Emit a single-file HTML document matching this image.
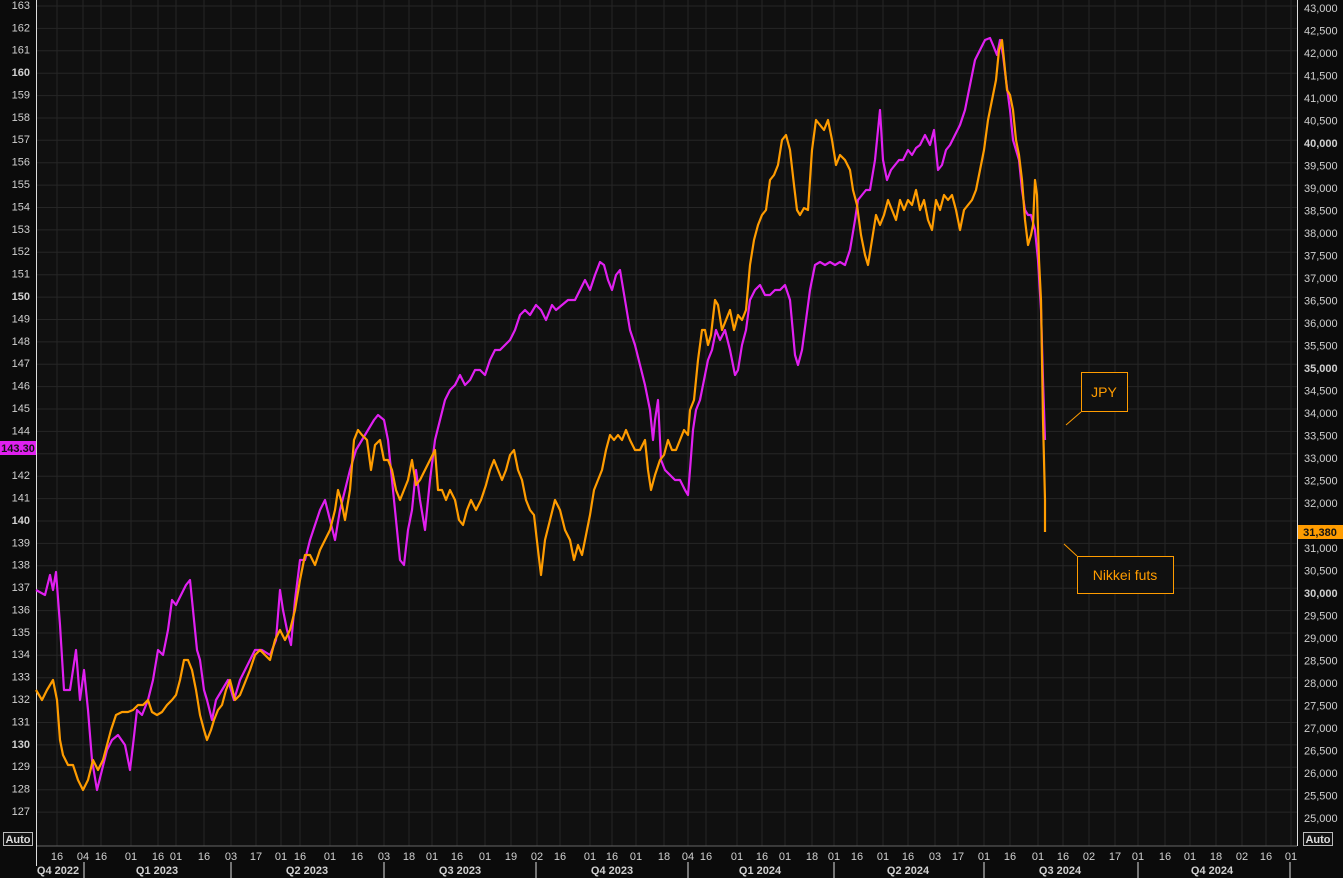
<!DOCTYPE html>
<html><head><meta charset="utf-8"><style>
html,body{margin:0;padding:0;background:#0b0b0b;}
svg{display:block;font-family:"Liberation Sans",sans-serif;}
.l text{font-size:11px;fill:#d0d0d0;text-anchor:end;dominant-baseline:middle}
.r text{font-size:11px;fill:#d0d0d0;dominant-baseline:middle}
.b text{font-size:11px;fill:#d0d0d0;text-anchor:middle}
.q text{font-size:11px;fill:#d0d0d0;font-weight:bold;text-anchor:middle}
.bd{font-weight:bold}
</style></head><body>
<svg width="1343" height="878" viewBox="0 0 1343 878">
<rect x="0" y="0" width="1343" height="878" fill="#0b0b0b"/>
<rect x="36" y="0" width="1261" height="846" fill="#101010"/>
<g stroke="#262626" stroke-width="1">
<path d="M36 6H1297M36 28.4H1297M36 50.8H1297M36 73.2H1297M36 95.6H1297M36 118H1297M36 140.3H1297M36 162.7H1297M36 185.1H1297M36 207.5H1297M36 229.9H1297M36 252.3H1297M36 274.7H1297M36 297.1H1297M36 319.5H1297M36 341.9H1297M36 364.3H1297M36 386.6H1297M36 409H1297M36 431.4H1297M36 453.8H1297M36 476.2H1297M36 498.6H1297M36 521H1297M36 543.4H1297M36 565.8H1297M36 588.2H1297M36 610.6H1297M36 633H1297M36 655.3H1297M36 677.7H1297M36 700.1H1297M36 722.5H1297M36 744.9H1297M36 767.3H1297M36 789.7H1297M36 812.1H1297"/>
<path d="M57 0V846M83 0V846M101 0V846M131 0V846M158 0V846M176 0V846M204 0V846M231 0V846M256 0V846M281 0V846M300 0V846M330 0V846M357 0V846M384 0V846M409 0V846M432 0V846M457 0V846M485 0V846M511 0V846M537 0V846M560 0V846M590 0V846M612 0V846M636 0V846M664 0V846M688 0V846M706 0V846M737 0V846M762 0V846M785 0V846M812 0V846M834 0V846M857 0V846M883 0V846M908 0V846M935 0V846M958 0V846M984 0V846M1010 0V846M1038 0V846M1063 0V846M1089 0V846M1115 0V846M1138 0V846M1165 0V846M1190 0V846M1216 0V846M1242 0V846M1266 0V846M1291 0V846"/>
</g>
<line x1="36" y1="846" x2="1297" y2="846" stroke="#666"/>
<line x1="36.5" y1="0" x2="36.5" y2="866" stroke="#ddd"/>
<line x1="1297.5" y1="0" x2="1297.5" y2="846" stroke="#ddd"/>
<g stroke="#ddd"><path d="M84 862V878M231 862V878M384 862V878M536 862V878M688 862V878M834 862V878M984 862V878M1138 862V878M1290 862V878"/></g>
<g class="l">
<text x="30" y="6">163</text><text x="30" y="28.4">162</text><text x="30" y="50.8">161</text><text x="30" y="73.2" class="bd">160</text><text x="30" y="95.6">159</text><text x="30" y="118">158</text><text x="30" y="140.3">157</text><text x="30" y="162.7">156</text><text x="30" y="185.1">155</text><text x="30" y="207.5">154</text><text x="30" y="229.9">153</text><text x="30" y="252.3">152</text><text x="30" y="274.7">151</text><text x="30" y="297.1" class="bd">150</text><text x="30" y="319.5">149</text><text x="30" y="341.9">148</text><text x="30" y="364.3">147</text><text x="30" y="386.6">146</text><text x="30" y="409">145</text><text x="30" y="431.4">144</text><text x="30" y="476.2">142</text><text x="30" y="498.6">141</text><text x="30" y="521" class="bd">140</text><text x="30" y="543.4">139</text><text x="30" y="565.8">138</text><text x="30" y="588.2">137</text><text x="30" y="610.6">136</text><text x="30" y="633">135</text><text x="30" y="655.3">134</text><text x="30" y="677.7">133</text><text x="30" y="700.1">132</text><text x="30" y="722.5">131</text><text x="30" y="744.9" class="bd">130</text><text x="30" y="767.3">129</text><text x="30" y="789.7">128</text><text x="30" y="812.1">127</text>
</g>
<g class="r">
<text x="1304" y="9">43,000</text><text x="1304" y="31.5">42,500</text><text x="1304" y="54">42,000</text><text x="1304" y="76.5">41,500</text><text x="1304" y="99">41,000</text><text x="1304" y="121.5">40,500</text><text x="1304" y="144" class="bd">40,000</text><text x="1304" y="166.5">39,500</text><text x="1304" y="189">39,000</text><text x="1304" y="211.5">38,500</text><text x="1304" y="234">38,000</text><text x="1304" y="256.5">37,500</text><text x="1304" y="279">37,000</text><text x="1304" y="301.5">36,500</text><text x="1304" y="324">36,000</text><text x="1304" y="346.5">35,500</text><text x="1304" y="369" class="bd">35,000</text><text x="1304" y="391.5">34,500</text><text x="1304" y="414">34,000</text><text x="1304" y="436.5">33,500</text><text x="1304" y="459">33,000</text><text x="1304" y="481.5">32,500</text><text x="1304" y="504">32,000</text><text x="1304" y="549">31,000</text><text x="1304" y="571.5">30,500</text><text x="1304" y="594" class="bd">30,000</text><text x="1304" y="616.5">29,500</text><text x="1304" y="639">29,000</text><text x="1304" y="661.5">28,500</text><text x="1304" y="684">28,000</text><text x="1304" y="706.5">27,500</text><text x="1304" y="729">27,000</text><text x="1304" y="751.5">26,500</text><text x="1304" y="774">26,000</text><text x="1304" y="796.5">25,500</text><text x="1304" y="819">25,000</text>
</g>
<g class="b">
<text x="57" y="860">16</text><text x="83" y="860">04</text><text x="101" y="860">16</text><text x="131" y="860">01</text><text x="158" y="860">16</text><text x="176" y="860">01</text><text x="204" y="860">16</text><text x="231" y="860">03</text><text x="256" y="860">17</text><text x="281" y="860">01</text><text x="300" y="860">16</text><text x="330" y="860">01</text><text x="357" y="860">16</text><text x="384" y="860">03</text><text x="409" y="860">18</text><text x="432" y="860">01</text><text x="457" y="860">16</text><text x="485" y="860">01</text><text x="511" y="860">19</text><text x="537" y="860">02</text><text x="560" y="860">16</text><text x="590" y="860">01</text><text x="612" y="860">16</text><text x="636" y="860">01</text><text x="664" y="860">18</text><text x="688" y="860">04</text><text x="706" y="860">16</text><text x="737" y="860">01</text><text x="762" y="860">16</text><text x="785" y="860">01</text><text x="812" y="860">18</text><text x="834" y="860">01</text><text x="857" y="860">16</text><text x="883" y="860">01</text><text x="908" y="860">16</text><text x="935" y="860">03</text><text x="958" y="860">17</text><text x="984" y="860">01</text><text x="1010" y="860">16</text><text x="1038" y="860">01</text><text x="1063" y="860">16</text><text x="1089" y="860">02</text><text x="1115" y="860">17</text><text x="1138" y="860">01</text><text x="1165" y="860">16</text><text x="1190" y="860">01</text><text x="1216" y="860">18</text><text x="1242" y="860">02</text><text x="1266" y="860">16</text><text x="1291" y="860">01</text>
</g>
<g class="q">
<text x="58" y="874">Q4 2022</text><text x="157" y="874">Q1 2023</text><text x="307" y="874">Q2 2023</text><text x="460" y="874">Q3 2023</text><text x="612" y="874">Q4 2023</text><text x="760" y="874">Q1 2024</text><text x="908" y="874">Q2 2024</text><text x="1060" y="874">Q3 2024</text><text x="1212" y="874">Q4 2024</text>
</g>
<polyline fill="none" stroke="#e020f0" stroke-width="2.2" stroke-linejoin="round" points="36,590 45,595 50,575 53,590 56,572 60,625 64,690 70,690 76,650 80,700 84,670 88,710 92,760 97,790 102,770 107,750 112,740 118,735 125,745 130,770 133,745 137,710 142,715 148,700 153,680 158,650 163,655 168,630 172,600 176,605 181,595 186,585 190,580 194,620 197,650 200,660 204,690 207,700 212,720 216,700 222,690 228,680 234,700 240,680 245,670 250,660 255,650 262,650 270,655 276,640 280,590 283,610 287,630 291,645 295,600 300,560 305,560 310,540 315,525 320,510 325,500 330,520 335,540 340,510 345,490 350,470 356,450 362,440 368,430 374,420 378,415 384,420 388,440 392,480 396,520 400,560 404,565 408,530 412,510 416,470 420,500 425,530 430,480 435,440 440,420 445,400 450,390 455,385 460,375 465,385 470,380 475,370 480,370 485,375 490,360 495,350 500,350 505,345 510,340 515,330 520,315 525,310 530,315 536,305 541,310 546,320 552,305 556,310 562,305 568,300 575,300 580,290 585,280 590,290 595,275 600,262 604,265 608,280 612,290 616,275 620,270 625,300 630,330 635,345 640,365 645,385 650,410 653,440 655,420 658,400 661,460 665,470 670,475 675,480 680,480 685,490 688,495 690,470 693,430 696,410 700,400 704,380 708,360 712,350 716,330 720,340 725,330 730,350 735,375 738,370 742,345 746,330 750,300 755,290 760,285 765,295 770,295 775,290 780,290 785,285 790,300 795,355 798,365 802,350 806,320 810,290 815,265 820,262 825,265 830,262 835,265 840,262 845,265 850,250 855,220 858,200 862,195 866,190 870,190 875,160 880,110 883,160 887,180 891,170 895,165 899,160 903,160 908,150 912,155 916,148 920,145 925,135 930,145 934,130 938,170 942,165 946,150 950,145 955,135 960,125 965,110 970,85 975,60 980,50 985,40 990,38 993,45 997,55 1000,40 1003,55 1006,80 1010,110 1013,140 1016,150 1019,160 1022,190 1025,210 1028,215 1031,215 1035,230 1038,260 1041,310 1043,380 1045,440"/>
<polyline fill="none" stroke="#ff9c00" stroke-width="2.2" stroke-linejoin="round" points="36,690 42,700 47,690 53,680 57,700 60,740 63,755 68,765 73,765 78,780 83,790 88,780 93,760 98,770 103,760 107,745 111,730 116,715 122,712 128,712 133,710 138,705 143,705 148,700 152,712 157,715 162,712 167,705 172,700 176,695 180,680 184,660 188,660 192,670 196,690 200,715 204,730 207,740 211,730 214,720 218,710 222,705 226,690 230,680 235,700 240,695 246,680 250,670 255,655 260,650 265,655 270,660 275,640 280,630 285,640 290,630 295,610 300,580 305,555 310,555 315,565 320,550 325,540 330,530 335,510 338,490 341,500 345,520 350,490 354,440 358,430 362,435 367,440 371,470 375,445 380,440 384,460 388,460 392,470 396,490 400,500 404,490 408,480 412,460 416,485 420,480 425,470 430,460 435,450 438,490 442,490 446,500 450,490 455,500 459,520 463,525 467,510 471,500 476,510 481,500 486,485 490,470 494,460 498,470 502,480 506,470 510,455 514,450 518,470 522,480 526,500 530,510 534,515 538,550 541,575 545,540 550,520 555,500 560,510 565,530 570,540 574,560 578,545 582,555 586,535 590,515 594,490 598,480 602,470 606,450 610,435 614,440 618,435 622,440 626,430 630,440 635,450 640,450 645,440 648,470 651,490 655,475 660,460 664,455 668,440 672,450 676,450 680,440 684,430 688,435 690,410 694,400 698,360 702,330 705,330 708,345 711,335 715,300 718,305 722,330 726,320 730,310 734,330 738,315 742,320 746,310 750,265 754,240 758,225 762,215 766,210 770,180 774,175 778,165 782,140 786,135 790,150 794,185 797,210 800,215 804,208 808,210 812,150 816,120 820,125 824,130 828,120 832,140 836,165 840,155 845,160 850,170 853,190 857,205 861,235 865,255 868,265 872,240 876,215 880,225 884,215 888,200 892,210 896,220 900,200 904,210 908,200 912,205 916,190 920,210 924,200 928,220 932,230 936,200 940,210 944,195 948,200 952,195 956,210 960,230 964,210 968,205 972,200 976,190 980,170 984,150 988,120 992,100 996,80 999,50 1002,40 1004,60 1007,90 1010,95 1013,110 1016,140 1019,155 1022,180 1025,220 1028,245 1031,235 1033,225 1035,180 1037,195 1039,260 1041,300 1043,420 1045,500 1045,532"/>
<rect x="1081.5" y="372.5" width="46" height="39" fill="#101010" stroke="#ff9c00"/>
<text x="1104" y="397" fill="#ff9c00" font-size="14" text-anchor="middle">JPY</text>
<line x1="1081" y1="412" x2="1066" y2="425" stroke="#ff9c00"/>
<rect x="1077.5" y="556.5" width="96" height="37" fill="#101010" stroke="#ff9c00"/>
<text x="1125" y="580" fill="#ff9c00" font-size="14" text-anchor="middle">Nikkei futs</text>
<line x1="1077" y1="556" x2="1064" y2="544" stroke="#ff9c00"/>
<rect x="0" y="441" width="36" height="14" fill="#e020f0"/>
<text x="18" y="452" font-size="11" font-weight="bold" fill="#111" text-anchor="middle">143.30</text>
<rect x="1298" y="525" width="45" height="14" fill="#ff9c00"/>
<text x="1320" y="536" font-size="11" font-weight="bold" fill="#111" text-anchor="middle">31,380</text>
<rect x="3.5" y="832.5" width="29" height="13" fill="#111" stroke="#bbb"/>
<text x="18" y="843" font-size="11" font-weight="bold" fill="#ddd" text-anchor="middle">Auto</text>
<rect x="1303.5" y="832.5" width="29" height="13" fill="#111" stroke="#bbb"/>
<text x="1318" y="843" font-size="11" font-weight="bold" fill="#ddd" text-anchor="middle">Auto</text>
</svg>
</body></html>
